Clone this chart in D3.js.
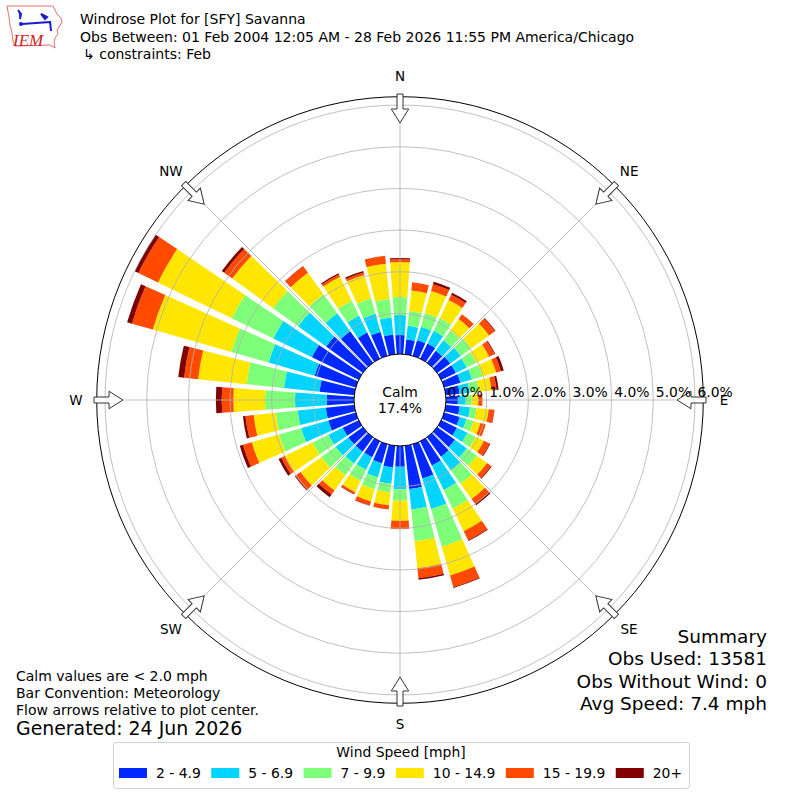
<!DOCTYPE html>
<html>
<head>
<meta charset="utf-8">
<script src="https://cdn.jsdelivr.net/npm/d3@7"></script>
<style>
  body { margin: 0; background: #fff; }
  svg { display: block; }
  text { font-family: "DejaVu Sans", sans-serif; fill: #000; }
</style>
</head>
<body>
<div id="chart"></div>
<script>
// direction each bar comes from (deg, meteorological convention)
const directions = d3.range(0, 360, 10);

const speedBins = ["2 - 4.9", "5 - 6.9", "7 - 9.9", "10 - 14.9", "15 - 19.9", "20+"];
const binColors = ["#0028ff", "#00d4ff", "#7dff7a", "#ffe600", "#ff4a00", "#800000"];

// percent of obs per direction, one array per speed bin
const bin2to5 = [0.48, 0.38, 0.41, 0.43, 0.38, 0.41, 0.41, 0.43, 0.36, 0.31, 0.36, 0.41,
                 0.44, 0.55, 0.60, 0.67, 0.88, 1.07, 0.52, 0.55, 0.50, 0.45, 0.45, 0.45,
                 0.45, 0.71, 0.71, 0.68, 0.86, 1.05, 1.27, 1.11, 0.96, 0.72, 0.62, 0.50];
const bin5to7 = [0.48, 0.33, 0.34, 0.34, 0.31, 0.31, 0.29, 0.29, 0.24, 0.19, 0.25, 0.17,
                 0.28, 0.35, 0.40, 0.65, 0.76, 0.49, 0.54, 0.39, 0.35, 0.33, 0.35, 0.38,
                 0.38, 0.68, 0.68, 0.76, 0.86, 1.15, 1.03, 0.83, 0.53, 0.45, 0.45, 0.41];
const bin7to10 = [0.43, 0.36, 0.34, 0.34, 0.29, 0.31, 0.26, 0.26, 0.22, 0.14, 0.16, 0.18,
                  0.22, 0.30, 0.40, 0.50, 0.94, 0.77, 0.28, 0.21, 0.30, 0.30, 0.35, 0.42,
                  0.42, 0.55, 0.53, 0.72, 0.90, 0.93, 1.11, 0.74, 0.56, 0.40, 0.38, 0.45];
const bin10to15 = [0.84, 0.49, 0.55, 0.48, 0.34, 0.53, 0.34, 0.34, 0.31, 0.16, 0.29, 0.17,
                   0.22, 0.30, 0.45, 0.60, 0.72, 0.65, 0.48, 0.31, 0.30, 0.30, 0.45, 0.62,
                   0.74, 0.68, 0.53, 0.76, 1.17, 1.96, 1.97, 1.21, 0.64, 0.64, 0.59, 0.85];
const bin15to20 = [0.07, 0.20, 0.17, 0.14, 0.14, 0.17, 0.14, 0.12, 0.12, 0.10, 0.13, 0.13,
                   0.15, 0.12, 0.15, 0.24, 0.29, 0.24, 0.20, 0.10, 0.10, 0.05, 0.12, 0.15,
                   0.10, 0.22, 0.20, 0.28, 0.34, 0.52, 0.52, 0.24, 0.19, 0.06, 0.06, 0.19];
const bin20plus = [0.03, 0.00, 0.06, 0.05, 0.00, 0.02, 0.02, 0.07, 0.05, 0.00, 0.01, 0.00,
                   0.02, 0.02, 0.04, 0.02, 0.02, 0.04, 0.00, 0.00, 0.01, 0.01, 0.08, 0.02,
                   0.07, 0.08, 0.06, 0.14, 0.14, 0.12, 0.10, 0.07, 0.01, 0.03, 0.04, 0.00];
const binSeries = [bin2to5, bin5to7, bin7to10, bin10to15, bin15to20, bin20plus];

const radialTicks = [0, 1, 2, 3, 4, 5, 6];
const compassLabels = ["N", "NE", "E", "SE", "S", "SW", "W", "NW"];
const compassDeg = [0, 45, 90, 135, 180, 225, 270, 315];

const calmLabel = ["Calm", "17.4%"];
const titleLines = ["Windrose Plot for [SFY] Savanna",
                    "Obs Between: 01 Feb 2004 12:05 AM - 28 Feb 2026 11:55 PM America/Chicago",
                    "\u21b3 constraints: Feb"];
const noteLines = ["Calm values are < 2.0 mph", "Bar Convention: Meteorology",
                   "Flow arrows relative to plot center."];
const generatedLine = "Generated: 24 Jun 2026";
const summaryLines = ["Summary", "Obs Used: 13581", "Obs Without Wind: 0", "Avg Speed: 7.4 mph"];
const legendTitle = "Wind Speed [mph]";

const width = 800, height = 800;
const cx = 400, cy = 400;

const svg = d3.select("#chart").append("svg")
    .attr("width", width)
    .attr("height", height)
    .attr("viewBox", "0 0 " + width + " " + height);

const r = d3.scaleLinear().domain([0, 6.2]).range([45, 303.3]);
const rad = d => d * Math.PI / 180;
const halfOpen = 5 * 0.82;

const plot = svg.append("g").attr("transform", `translate(${cx},${cy})`);

// stacked wind bars
const stacks = directions.map((dir, i) => {
    let base = 0;
    return binSeries.map((series, b) => {
        const seg = { dir, bin: b, y0: base, y1: base + series[i] };
        base += series[i];
        return seg;
    });
}).flat();

const arc = d3.arc()
    .innerRadius(d => r(d.y0))
    .outerRadius(d => r(d.y1))
    .startAngle(d => rad(d.dir - halfOpen))
    .endAngle(d => rad(d.dir + halfOpen));

plot.selectAll("path.bar")
    .data(stacks.filter(d => d.y1 > d.y0))
    .enter()
    .append("path")
    .attr("class", "bar")
    .attr("d", arc)
    .attr("fill", d => binColors[d.bin]);

// grid on top of bars like matplotlib
plot.selectAll("circle.grid")
    .data(radialTicks.slice(1))
    .enter()
    .append("circle")
    .attr("class", "grid")
    .attr("r", d => r(d))
    .attr("fill", "none")
    .attr("stroke", "#b0b0b0")
    .attr("stroke-width", 0.8);

plot.selectAll("line.spoke")
    .data(compassDeg)
    .enter()
    .append("line")
    .attr("class", "spoke")
    .attr("x1", d => r(0) * Math.sin(rad(d)))
    .attr("y1", d => -r(0) * Math.cos(rad(d)))
    .attr("x2", d => r.range()[1] * Math.sin(rad(d)))
    .attr("y2", d => -r.range()[1] * Math.cos(rad(d)))
    .attr("stroke", "#b0b0b0")
    .attr("stroke-width", 0.8);

plot.append("circle")
    .attr("r", r.range()[1])
    .attr("fill", "none")
    .attr("stroke", "#000")
    .attr("stroke-width", 1);

// calm circle
plot.append("circle")
    .attr("r", r(0) + 1)
    .attr("fill", "#fff")
    .attr("stroke", "#000")
    .attr("stroke-width", 1);

plot.selectAll("text.calm")
    .data(calmLabel)
    .enter()
    .append("text")
    .attr("class", "calm")
    .attr("x", 0)
    .attr("y", (d, i) => -3 + i * 16)
    .attr("text-anchor", "middle")
    .style("font-size", "13.9px")
    .text(d => d);

// flow arrows pointing at the center
const arrowPath = "M-3,-306 L3,-306 L3,-291 L8.7,-291 L0,-277 L-8.7,-291 L-3,-291 Z";
plot.selectAll("path.arrow")
    .data(compassDeg)
    .enter()
    .append("path")
    .attr("class", "arrow")
    .attr("d", arrowPath)
    .attr("transform", d => `rotate(${d})`)
    .attr("fill", "#fff")
    .attr("stroke", "#333")
    .attr("stroke-width", 1);

plot.selectAll("text.compass")
    .data(compassDeg)
    .enter()
    .append("text")
    .attr("class", "compass")
    .attr("x", d => 324 * Math.sin(rad(d)))
    .attr("y", d => -324 * Math.cos(rad(d)))
    .attr("text-anchor", "middle")
    .attr("dominant-baseline", "central")
    .style("font-size", "13.5px")
    .text((d, i) => compassLabels[i]);

plot.selectAll("text.rtick")
    .data(radialTicks)
    .enter()
    .append("text")
    .attr("class", "rtick")
    .attr("x", d => r(d) + 2.5)
    .attr("y", -3)
    .style("font-size", "13.9px")
    .text(d => d3.format(".1f")(d) + "%");

// header
svg.selectAll("text.title")
    .data(titleLines)
    .enter()
    .append("text")
    .attr("class", "title")
    .attr("x", (d, i) => i === 2 ? 83 : 80)
    .attr("y", (d, i) => 24 + i * 17.6)
    .style("font-size", "14px")
    .text(d => d);

// IEM logo
const logo = svg.append("g");
logo.append("path")
    .attr("d", "M7,6 L53,6 L55,10 L57,14 L61,18 L62,22 L59,27 L57,30 L58,34 L55,38 L54,42 L55,48 L50,45 L15,46 L13,41 L12,33 L10,25 L9,17 Z")
    .attr("fill", "none")
    .attr("stroke", "#e07070")
    .attr("stroke-width", 1);
logo.append("path")
    .attr("d", "M18,10 L21,14 L20,19 M22,24 L50,22 M50,21 L51,31 M41,14 L47,17 L45,19 Z")
    .attr("fill", "#1a1ad0")
    .attr("stroke", "#1a1ad0")
    .attr("stroke-width", 2);
logo.append("circle").attr("cx", 21).attr("cy", 24).attr("r", 2).attr("fill", "#1a1ad0");
logo.append("text")
    .attr("x", 13)
    .attr("y", 46)
    .style("font-family", "'Liberation Serif', serif")
    .style("font-style", "italic")
    .style("font-size", "17px")
    .style("fill", "#d42020")
    .text("IEM");

// notes bottom left
svg.selectAll("text.note")
    .data(noteLines)
    .enter()
    .append("text")
    .attr("class", "note")
    .attr("x", 16)
    .attr("y", (d, i) => 680.5 + i * 17)
    .style("font-size", "14px")
    .text(d => d);

svg.append("text")
    .attr("x", 16)
    .attr("y", 734.5)
    .style("font-size", "18.9px")
    .text(generatedLine);

svg.selectAll("text.summary")
    .data(summaryLines)
    .enter()
    .append("text")
    .attr("class", "summary")
    .attr("x", 767)
    .attr("y", (d, i) => 642.5 + i * 22.5)
    .attr("text-anchor", "end")
    .style("font-size", "18.5px")
    .text(d => d);

// legend
const legend = svg.append("g");
legend.append("rect")
    .attr("x", 113.5)
    .attr("y", 742.5)
    .attr("width", 576)
    .attr("height", 46)
    .attr("rx", 3)
    .attr("fill", "#fff")
    .attr("stroke", "#d0d0d0");
legend.append("text")
    .attr("x", 401)
    .attr("y", 757)
    .attr("text-anchor", "middle")
    .style("font-size", "13.9px")
    .text(legendTitle);

let lx = 119;
speedBins.forEach((label, i) => {
    legend.append("rect")
        .attr("x", lx)
        .attr("y", 768)
        .attr("width", 28)
        .attr("height", 10)
        .attr("fill", binColors[i]);
    const t = legend.append("text")
        .attr("x", lx + 37)
        .attr("y", 778)
        .style("font-size", "13.9px")
        .text(label);
    lx += 37 + t.node().getComputedTextLength() + 10.5;
});
</script>
</body>
</html>
